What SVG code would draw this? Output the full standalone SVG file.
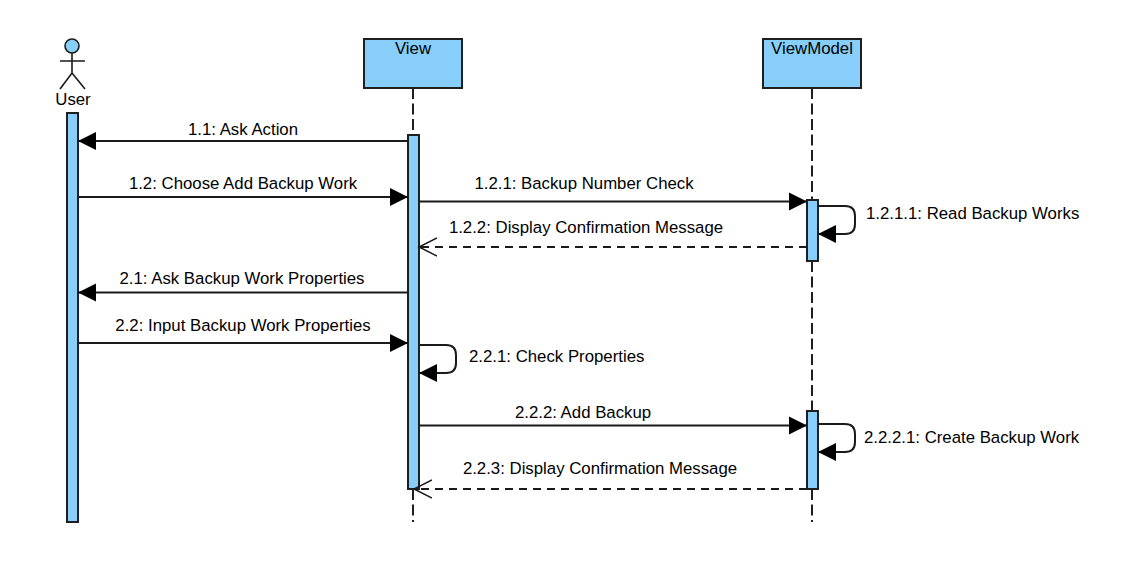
<svg xmlns="http://www.w3.org/2000/svg" width="1122" height="574" viewBox="0 0 1122 574">
<style>
text{font-family:"Liberation Sans",Arial,sans-serif;font-size:16.8px;fill:#000;text-anchor:middle}
.l{text-anchor:start}
.box{fill:#87cefa;stroke:#1f1f1f;stroke-width:2}
.life{fill:none;stroke:#1f1f1f;stroke-width:2;stroke-dasharray:11 4.500}
.msg{fill:none;stroke:#1a1a1a;stroke-width:2}
.ret{fill:none;stroke:#1a1a1a;stroke-width:2;stroke-dasharray:8 6}
.fig{fill:none;stroke:#1a1a1a;stroke-width:1.6}
</style>
<defs>
<marker id="solid" markerUnits="userSpaceOnUse" markerWidth="20" markerHeight="20" refX="18" refY="10" orient="auto"><path d="M0 1L18 10L0 19Z" fill="#000"/></marker>
<marker id="open" markerUnits="userSpaceOnUse" markerWidth="20" markerHeight="22" refX="18" refY="11" orient="auto"><path d="M0 2L18 11L0 20" fill="none" stroke="#1a1a1a" stroke-width="1.5"/></marker>
</defs>
<g id="lifelines">
<path class="life" d="M413 88V135M413 489V522"/>
<path class="life" d="M812 88V200M812 261V411M812 489V522"/>
</g>
<g id="user">
<circle cx="72" cy="46" r="7" fill="#87cefa" stroke="#1a1a1a" stroke-width="1.6"/>
<path class="fig" d="M72 53V73M60 61H85M60 89L72 73L85 89"/>
<text x="73" y="105">User</text>
<rect class="box" x="67" y="113" width="11" height="409"/>
</g>
<g id="view">
<rect class="box" x="364" y="39" width="98" height="49"/>
<text x="413" y="54">View</text>
<rect class="box" x="408" y="135" width="11" height="354"/>
</g>
<g id="viewmodel">
<rect class="box" x="763" y="39" width="98" height="49"/>
<text x="812" y="54">ViewModel</text>
<rect class="box" x="807" y="200" width="11" height="61"/>
<rect class="box" x="807" y="411" width="11" height="78"/>
</g>
<g id="connectors">
<path class="msg" d="M408 141H78" marker-end="url(#solid)"/>
<path class="msg" d="M78 197H408" marker-end="url(#solid)"/>
<path class="msg" d="M419 201.500H807" marker-end="url(#solid)"/>
<path class="msg" d="M818 206H845Q855 206 855 216V224Q855 234 845 234H818" marker-end="url(#solid)"/>
<path class="ret" d="M807 247H419" marker-end="url(#open)"/>
<path class="msg" d="M408 292.500H78" marker-end="url(#solid)"/>
<path class="msg" d="M78 343H408" marker-end="url(#solid)"/>
<path class="msg" d="M419 345H446Q456 345 456 355V363Q456 373 446 373H419" marker-end="url(#solid)"/>
<path class="msg" d="M419 425.500H807" marker-end="url(#solid)"/>
<path class="msg" d="M818 424H845Q855 424 855 434V442Q855 452 845 452H818" marker-end="url(#solid)"/>
<path class="ret" d="M807 489H414" marker-end="url(#open)"/>
</g>
<g id="labels">
<text x="243" y="135">1.1: Ask Action</text>
<text x="243" y="189">1.2: Choose Add Backup Work</text>
<text x="584" y="189">1.2.1: Backup Number Check</text>
<text class="l" x="866" y="219">1.2.1.1: Read Backup Works</text>
<text x="586" y="233">1.2.2: Display Confirmation Message</text>
<text x="242" y="284">2.1: Ask Backup Work Properties</text>
<text x="243" y="331">2.2: Input Backup Work Properties</text>
<text class="l" x="469" y="362">2.2.1: Check Properties</text>
<text x="583" y="418">2.2.2: Add Backup</text>
<text class="l" x="864" y="443">2.2.2.1: Create Backup Work</text>
<text x="600" y="474">2.2.3: Display Confirmation Message</text>
</g>
</svg>
